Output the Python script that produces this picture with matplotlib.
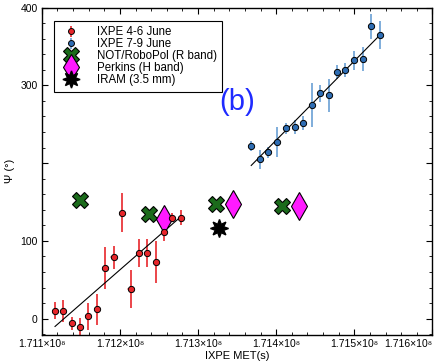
import numpy as np
import matplotlib
matplotlib.use('Agg')
import matplotlib.pyplot as plt
from matplotlib.ticker import FixedLocator, MultipleLocator

plt.rcParams['font.family'] = ['Liberation Sans', 'DejaVu Sans']

# IXPE 4-6 June
t_red = np.array([1.711169, 1.711275, 1.711382, 1.711488, 1.711594, 1.711709, 1.711811, 1.711918,
                  1.712028, 1.712135, 1.712245, 1.712352, 1.712458, 1.712560, 1.712672, 1.712781]) * 1e8
psi_red = np.array([10, 10, -6, -11, 3, 12, 65, 79, 136, 38, 84, 85, 73, 111, 130, 130])
err_red = np.array([11, 14, 8, 12, 17, 20, 27, 15, 25, 24, 18, 18, 27, 11, 6, 10])

# IXPE 7-9 June
t_blue = np.array([1.713680, 1.713795, 1.713901, 1.714012, 1.714122, 1.714237, 1.714348, 1.714454,
                   1.714565, 1.714676, 1.714782, 1.714885, 1.714996, 1.715106, 1.715217, 1.715328]) * 1e8
psi_blue = np.array([222, 205, 214, 227, 245, 246, 251, 275, 290, 287, 317, 320, 332, 334, 376, 365])
err_blue = np.array([6, 12, 7, 19, 7, 9, 9, 28, 11, 21, 9, 9, 12, 15, 16, 18])
t_err = 4000.0

# linear fits (end points)
fit_red_t = np.array([1.711169e8, 1.712766e8])
fit_red_psi = np.array([-10, 130])
fit_blue_t = np.array([1.713680e8, 1.715340e8])
fit_blue_psi = np.array([197, 366])

# optical / mm
t_not = np.array([1.711488, 1.712372, 1.713233, 1.714076]) * 1e8
psi_not = np.array([152, 134, 147, 145])
t_perk = np.array([1.712565, 1.713446, 1.714297]) * 1e8
psi_perk = np.array([128, 148, 145])
t_iram = np.array([1.713263e8])
psi_iram = np.array([116])

x_ticks = [1.711e8, 1.712e8, 1.713e8, 1.714e8, 1.715e8, 1.716e8]
x_labels = ['1.711×10⁸', '1.712×10⁸', '1.713×10⁸', '1.714×10⁸', '1.715×10⁸', '1.716×10⁸']
y_ticks = [0, 100, 200, 300, 400]
y_labels = ['0', '100', '', '300', '400']

fig = plt.figure(figsize=(4.37, 3.61), dpi=100)
ax = fig.add_axes([0.0957, 0.072, 0.894, 0.907])

# red points
ax.errorbar(t_red, psi_red, xerr=t_err, fmt='none', ecolor='#f4a3a3', elinewidth=1.2)
h_red = ax.errorbar(t_red, psi_red, yerr=err_red, fmt='o', color='#e8262b', ecolor='#e8262b',
                    elinewidth=1.2, ms=4.5, mec='black', mew=0.7, label='IXPE 4-6 June')
# blue points
ax.errorbar(t_blue, psi_blue, xerr=t_err, fmt='none', ecolor='#a8c6e6', elinewidth=1.2)
h_blue = ax.errorbar(t_blue, psi_blue, yerr=err_blue, fmt='o', color='#2e6db4', ecolor='#6a9fd4',
                     elinewidth=1.2, ms=4.5, mec='black', mew=0.7, label='IXPE 7-9 June')

ax.plot(fit_red_t, fit_red_psi, color='black', lw=0.8)
ax.plot(fit_blue_t, fit_blue_psi, color='black', lw=0.8)

h_not, = ax.plot(t_not, psi_not, 'X', ls='none', ms=12, color='#1b6b1b', mec='black', mew=0.8,
                 label='NOT/RoboPol (R band)')
h_perk, = ax.plot(t_perk, psi_perk, 'd', ls='none', ms=14, color='#ff1aff', mec='black', mew=0.8,
                  label='Perkins (H band)')
h_iram, = ax.plot(t_iram, psi_iram, marker=(8, 1, 0), ls='none', ms=13, color='black',
                  label='IRAM (3.5 mm)')

ax.text(1.71350e8, 279, '(b)', color='#1f2bff', fontsize=21, ha='center', va='center')

ax.set_xlim(1.711e8, 1.716e8)
ax.set_ylim(-21, 400)

ax.xaxis.set_major_locator(FixedLocator(x_ticks))
ax.set_xticklabels(x_labels)
ax.xaxis.set_minor_locator(MultipleLocator(2e4))
ax.yaxis.set_major_locator(FixedLocator(y_ticks))
ax.set_yticklabels(y_labels)
ax.yaxis.set_minor_locator(MultipleLocator(20))
ax.tick_params(which='both', direction='in', top=True, right=True, labelsize=7.5, pad=3)
ax.tick_params(which='major', length=4, width=0.8)
ax.tick_params(which='minor', length=2, width=0.6)
ax.get_xticklabels()[-1].set_ha('right')
for s in ax.spines.values():
    s.set_linewidth(1.0)

ax.set_xlabel('IXPE MET(s)', fontsize=8, labelpad=1)
ax.set_ylabel('Ψ (°)', fontsize=8)
ax.yaxis.set_label_coords(-0.068, 0.5)

leg = ax.legend(handles=[h_red, h_blue, h_not, h_perk, h_iram], loc='upper left',
                bbox_to_anchor=(0.016, 0.976), fontsize=8.3, frameon=True, fancybox=False,
                edgecolor='black', framealpha=1, borderpad=0.45, labelspacing=0.0,
                handletextpad=1.3, handlelength=2.0, markerscale=0.95)
leg.get_frame().set_linewidth(0.8)

fig.savefig('out.png', dpi=100)
